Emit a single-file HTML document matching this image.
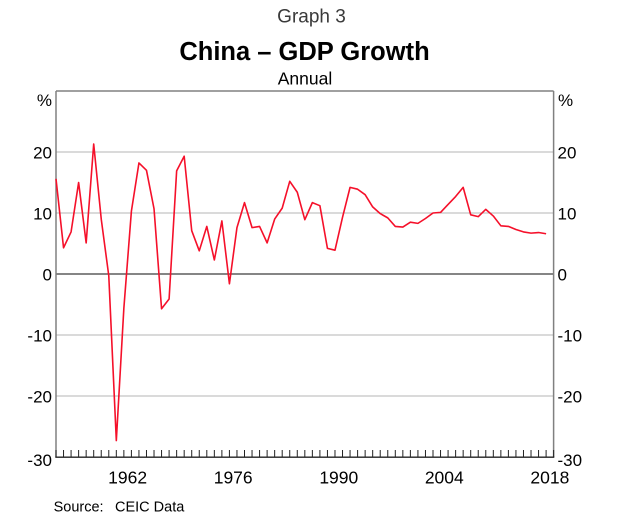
<!DOCTYPE html>
<html><head><meta charset="utf-8"><style>
html,body{margin:0;padding:0;background:#fff;}
svg{display:block;}
text{font-family:"Liberation Sans",Arial,sans-serif;}
</style></head><body>
<svg width="623" height="527" viewBox="0 0 623 527" xmlns="http://www.w3.org/2000/svg">
<rect width="623" height="527" fill="#fff"/>
<text x="311.5" y="22.7" font-size="19" fill="#3a3a3a" text-anchor="middle">Graph 3</text>
<text x="304.5" y="60" font-size="25.5" font-weight="bold" fill="#000" text-anchor="middle">China – GDP Growth</text>
<text x="305" y="84.3" font-size="17.5" fill="#000" text-anchor="middle">Annual</text>
<!-- gridlines -->
<g stroke="#b4b4b4" stroke-width="1">
<line x1="56" x2="553.6" y1="152" y2="152"/>
<line x1="56" x2="553.6" y1="213" y2="213"/>
<line x1="56" x2="553.6" y1="335" y2="335"/>
<line x1="56" x2="553.6" y1="396" y2="396"/>
</g>
<line x1="56" x2="553.6" y1="274" y2="274" stroke="#3c3c3c" stroke-width="1.2"/>
<!-- frame -->
<g stroke="#808080" stroke-width="1.5" fill="none">
<line x1="56" y1="91" x2="553.6" y2="91"/>
<line x1="56" y1="91" x2="56" y2="457"/>
<line x1="553.6" y1="91" x2="553.6" y2="457"/>
</g>
<line x1="55.3" y1="457.2" x2="554.3" y2="457.2" stroke="#222" stroke-width="1.4"/>
<!-- ticks -->
<path stroke="#222" stroke-width="1" fill="none" d="M56 457V450M63.54 457V450M71.08 457V450M78.62 457V450M86.16 457V450M93.7 457V450M101.24 457V450M108.78 457V450M116.32 457V450M123.86 457V450M131.4 457V450M138.94 457V450M146.48 457V450M154.02 457V450M161.56 457V450M169.1 457V450M176.64 457V450M184.18 457V450M191.72 457V450M199.26 457V450M206.8 457V450M214.34 457V450M221.88 457V450M229.42 457V450M236.96 457V450M244.5 457V450M252.04 457V450M259.58 457V450M267.12 457V450M274.66 457V450M282.2 457V450M289.74 457V450M297.28 457V450M304.82 457V450M312.36 457V450M319.9 457V450M327.44 457V450M334.98 457V450M342.52 457V450M350.06 457V450M357.6 457V450M365.14 457V450M372.68 457V450M380.22 457V450M387.76 457V450M395.3 457V450M402.84 457V450M410.38 457V450M417.92 457V450M425.46 457V450M433 457V450M440.54 457V450M448.08 457V450M455.62 457V450M463.16 457V450M470.7 457V450M478.24 457V450M485.78 457V450M493.32 457V450M500.86 457V450M508.4 457V450M515.94 457V450M523.48 457V450M531.02 457V450M538.56 457V450M546.1 457V450M553.64 457V450"/>
<!-- series -->
<polyline fill="none" stroke="#f5102a" stroke-width="1.6" stroke-linejoin="round" points="56,178.84 63.54,247.77 71.08,231.91 78.62,182.5 86.16,242.89 93.7,144.07 101.24,219.1 108.78,275.83 116.32,440.53 123.86,308.16 131.4,211.17 138.94,162.98 146.48,170.3 154.02,208.73 161.56,308.77 169.1,299.01 176.64,170.91 184.18,156.27 191.72,230.69 199.26,250.82 206.8,226.42 214.34,259.97 221.88,220.93 229.42,283.76 236.96,227.64 244.5,202.63 252.04,227.64 259.58,226.42 267.12,242.89 274.66,219.1 282.2,208.12 289.74,181.28 297.28,192.26 304.82,219.71 312.36,202.63 319.9,205.68 327.44,248.38 334.98,250.21 342.52,217.27 350.06,187.38 357.6,189.21 365.14,194.7 372.68,206.9 380.22,213.61 387.76,217.88 395.3,226.42 402.84,227.03 410.38,222.15 417.92,223.37 425.46,218.49 433,213 440.54,212.39 448.08,204.46 455.62,196.53 463.16,187.38 470.7,214.83 478.24,216.66 485.78,209.34 493.32,216.05 500.86,225.81 508.4,226.42 515.94,229.47 523.48,231.91 531.02,233.13 538.56,232.52 546.1,233.74"/>
<!-- left labels -->
<g font-size="17" fill="#000" text-anchor="end">
<text x="52" y="106">%</text>
<text x="52" y="158.5">20</text>
<text x="52" y="219.5">10</text>
<text x="52" y="280.5">0</text>
<text x="52" y="341.5">-10</text>
<text x="52" y="402.5">-20</text>
<text x="52" y="466">-30</text>
</g>
<!-- right labels -->
<g font-size="17" fill="#000" text-anchor="start">
<text x="558" y="106">%</text>
<text x="557.5" y="158.5">20</text>
<text x="557.5" y="219.5">10</text>
<text x="557.5" y="280.5">0</text>
<text x="557.5" y="341.5">-10</text>
<text x="557.5" y="402.5">-20</text>
<text x="557.5" y="466">-30</text>
</g>
<!-- x labels -->
<g font-size="17.5" fill="#000" text-anchor="middle">
<text x="127.6" y="483.3">1962</text>
<text x="233.2" y="483.3">1976</text>
<text x="338.8" y="483.3">1990</text>
<text x="444.3" y="483.3">2004</text>
<text x="549.9" y="483.3">2018</text>
</g>
<text x="53.6" y="511.7" font-size="14.5" fill="#000">Source:</text>
<text x="115" y="511.7" font-size="14.5" fill="#000">CEIC Data</text>
</svg>
</body></html>
